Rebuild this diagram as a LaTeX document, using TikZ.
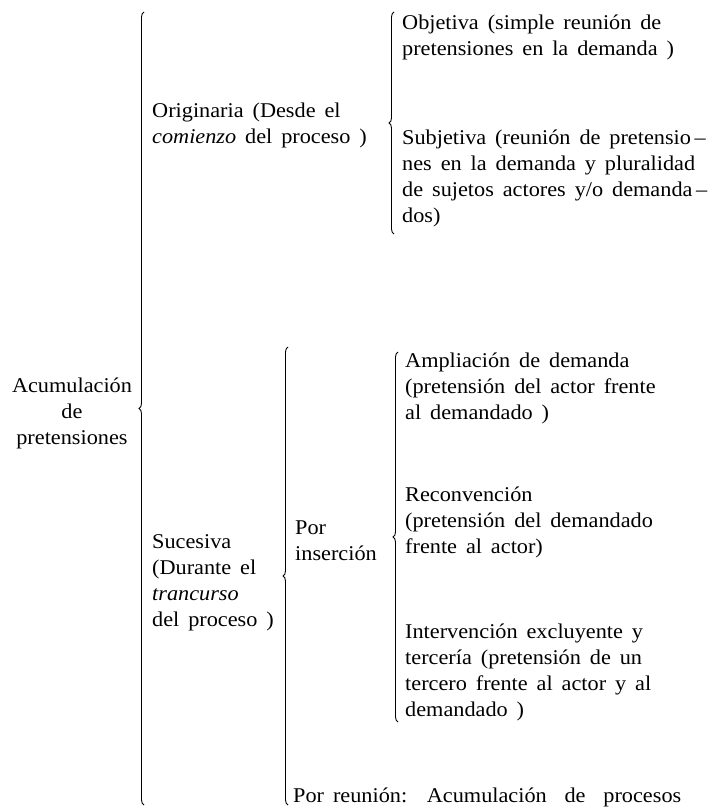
\documentclass[tikz,border=0pt]{standalone}
\usepackage{fontspec}
\setmainfont{Liberation Serif}[FakeStretch=1.06, WordSpace=1.6]
\usetikzlibrary{decorations.pathreplacing}
\usetikzlibrary{positioning}

\begin{document}
\begin{tikzpicture}[x=1pt, y=-1pt,
    txt/.style={anchor=west, align=left, inner sep=0pt, font=\fontsize{21}{26}\selectfont},
    brc/.style={decorate, decoration={brace, amplitude=5pt}, line width=0.9pt}]
    \useasboundingbox (0,0) rectangle (713,808);

    % ends of the braces
    \coordinate (b1t) at (144,12);   \coordinate (b1b) at (144,805);
    \coordinate (b2t) at (394,12);   \coordinate (b2b) at (394,234);
    \coordinate (b3t) at (288,347);  \coordinate (b3b) at (288,805);
    \coordinate (b4t) at (398,352);  \coordinate (b4b) at (398,722);

    \node[txt, anchor=center, align=center] (acum) at (72,413) {Acumulación\\de\\pretensiones};

    \node[txt] (orig) at (152,125) {Originaria (Desde el\\\textit{comienzo} del proceso )};
    \node[txt] (obj) at (402,37) {Objetiva (simple reunión de\\pretensiones en la demanda )};
    \node[txt] (subj) at (402,178) {Subjetiva (reunión de pretensio\,--\\nes en la demanda y pluralidad\\de sujetos actores y/o demanda\,--\\dos)};

    \node[txt] (suc) at (152,583) {Sucesiva\\(Durante el\\\textit{trancurso}\\del proceso )};
    \node[txt] (porins) at (295,541) {Por\\inserción};
    \node[txt] (amp) at (405,388) {Ampliación de demanda\\(pretensión del actor frente\\al demandado )};
    \node[txt] (recon) at (405,522) {Reconvención\\(pretensión del demandado\\frente al actor)};
    \node[txt] (interv) at (405,672) {Intervención excluyente y\\tercería (pretensión de un\\tercero frente al actor y al\\demandado )};
    \node[txt] (porreu) at (293,797) {Por reunión:~ Acumulación~ de~ procesos};

    \draw[brc] (b1b) -- (b1t);
    \draw[brc] (b2b) -- (b2t);
    \draw[brc] (b3b) -- (b3t);
    \draw[brc] (b4b) -- (b4t);
\end{tikzpicture}
\end{document}
